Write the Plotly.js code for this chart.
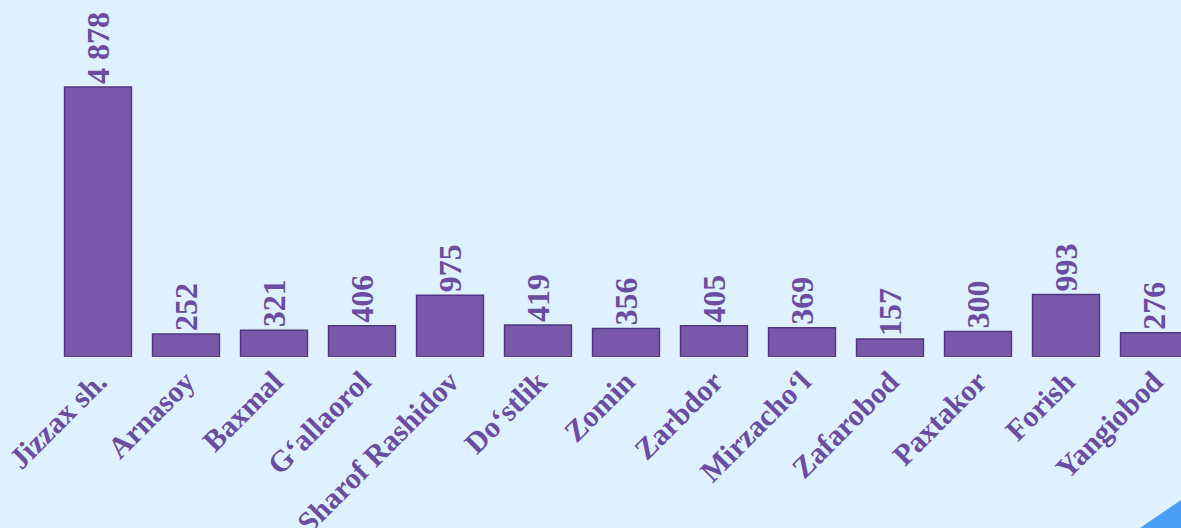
<!DOCTYPE html>
<html lang="uz">

<head>
    <meta charset="UTF-8">
    <title>Jizzax viloyati</title>
    <script src="https://cdn.plot.ly/plotly-3.0.1.min.js"></script>
    <style>
        html,
        body {
            margin: 0;
            padding: 0;
            background-color: #dff1fe;
            overflow: hidden;
        }

        #chart {
            width: 1181px;
            height: 528px;
        }
    </style>
</head>

<body>
    <div id="chart"></div>

    <script>
        // Tumanlar va qiymatlar
        const districts = ['Jizzax sh.', 'Arnasoy', 'Baxmal', 'G‘allaorol', 'Sharof Rashidov', 'Do‘stlik',
            'Zomin', 'Zarbdor', 'Mirzacho‘l', 'Zafarobod', 'Paxtakor', 'Forish', 'Yangiobod'];
        const values = [4878, 252, 321, 406, 975, 419, 356, 405, 369, 157, 300, 993, 276];
        const valueLabels = ['4 878', '252', '321', '406', '975', '419', '356', '405', '369', '157', '300', '993', '276'];

        // The original axis floor sits a little below zero
        const axisFloor = -180;

        const purpleText = '#6a4ca2';

        const trace = {
            type: 'bar',
            x: districts,
            y: values.map(v => v - axisFloor),
            base: axisFloor,
            text: valueLabels,
            textposition: 'outside',
            textangle: -90,
            constraintext: 'none',
            cliponaxis: false,
            hoverinfo: 'skip',
            textfont: { family: 'Liberation Serif', size: 32, color: purpleText, weight: 'bold' },
            marker: {
                color: '#7a59ad',
                line: { color: '#4e3880', width: 1.5 }
            }
        };

        const layout = {
            width: 1181,
            height: 528,
            margin: { l: 54, r: 0, t: 0, b: 171 },
            paper_bgcolor: '#dff1fe',
            plot_bgcolor: '#dff1fe',
            bargap: 0.24,
            showlegend: false,
            xaxis: {
                range: [-0.5, 12.307],
                tickangle: -45,
                ticks: '',
                showline: false,
                showgrid: false,
                zeroline: false,
                tickfont: { family: 'Liberation Serif', size: 30, color: purpleText, weight: 'bold' }
            },
            yaxis: {
                range: [axisFloor, 6508],
                visible: false,
                showgrid: false,
                zeroline: false
            },
            shapes: [{
                type: 'path',
                xref: 'paper',
                yref: 'paper',
                path: 'M 0.9636 -0.479 L 1 -0.4006 L 1 -0.479 Z',
                fillcolor: '#4a9ff5',
                line: { width: 0 }
            }]
        };

        Plotly.newPlot('chart', [trace], layout, { displayModeBar: false, staticPlot: true });
    </script>
</body>

</html>
